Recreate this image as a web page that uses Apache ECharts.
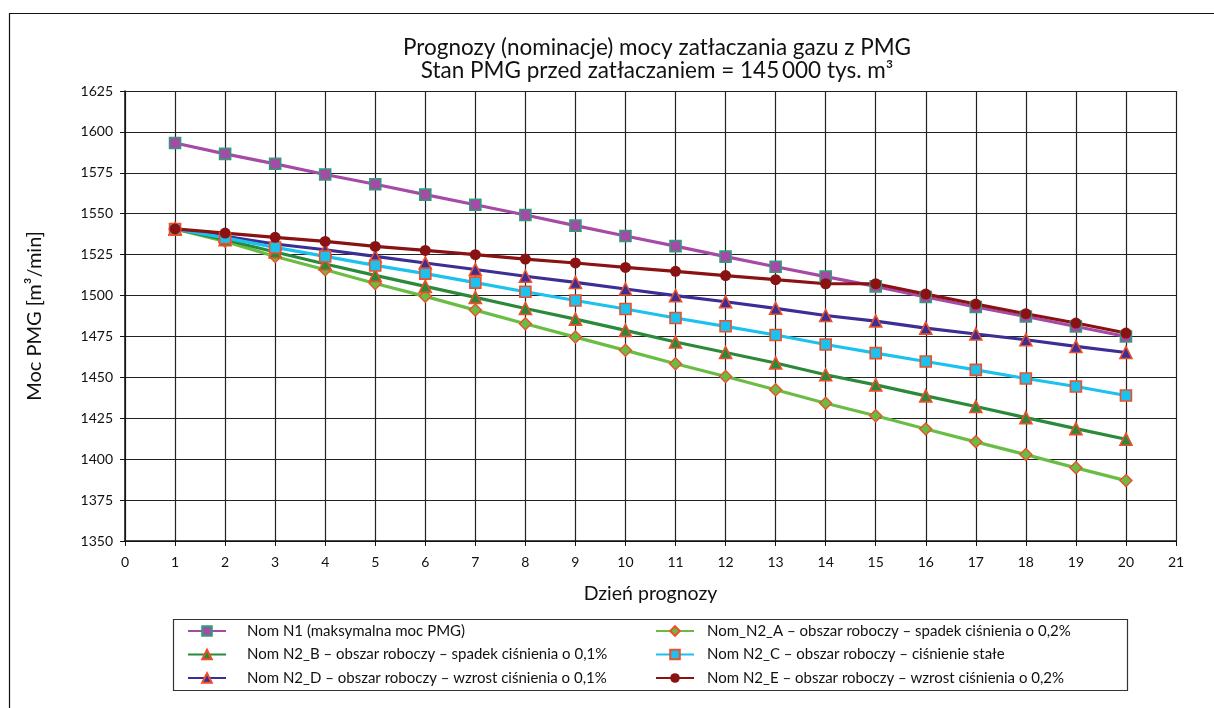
<!DOCTYPE html>
<html>
<head>
<meta charset="utf-8">
<script src="https://cdn.jsdelivr.net/npm/echarts@6/dist/echarts.min.js"></script>
<style>
html,body{margin:0;padding:0;background:#fff;}
#chart{width:1214px;height:708px;}
</style>
</head>
<body>
<div id="chart"></div>
<script>
var days = [1,2,3,4,5,6,7,8,9,10,11,12,13,14,15,16,17,18,19,20];
var nomN1 = [1593.2,1586.6,1580.5,1574.0,1568.0,1561.7,1555.5,1549.2,1542.7,1536.4,1530.2,1523.8,1517.6,1511.6,1505.6,1499.1,1493.0,1487.2,1481.1,1475.0];
var nomN2A = [1540.7,1533.1,1523.9,1515.8,1507.4,1499.5,1491.1,1482.8,1474.6,1466.5,1458.3,1450.5,1442.4,1434.2,1426.5,1418.4,1410.6,1402.8,1394.7,1386.9];
var nomN2B = [1540.7,1534.1,1526.6,1519.3,1512.3,1505.6,1498.9,1492.1,1485.6,1478.7,1471.6,1465.2,1458.8,1451.6,1445.4,1438.7,1432.2,1425.4,1418.7,1412.2];
var nomN2C = [1540.7,1535.2,1529.4,1523.9,1518.4,1513.4,1507.9,1502.3,1497.0,1491.8,1486.3,1481.2,1475.9,1470.1,1464.8,1459.7,1454.6,1449.3,1444.4,1438.9];
var nomN2D = [1540.7,1536.2,1531.5,1528.0,1523.9,1519.9,1515.9,1511.8,1508.0,1504.0,1499.9,1496.2,1492.2,1487.8,1484.4,1480.1,1476.5,1473.0,1468.9,1465.2];
var nomN2E = [1540.7,1538.2,1535.6,1533.1,1530.0,1527.6,1525.0,1522.3,1519.9,1517.2,1514.8,1512.2,1509.7,1507.2,1507.2,1500.9,1494.8,1488.9,1483.2,1477.1];

var seriesNames = [
  'Nom N1 (maksymalna moc PMG)',
  'Nom_N2_A \u2013 obszar roboczy \u2013 spadek ci\u015bnienia o 0,2%',
  'Nom N2_B \u2013 obszar roboczy \u2013 spadek ci\u015bnienia o 0,1%',
  'Nom N2_C \u2013 obszar roboczy \u2013 ci\u015bnienie sta\u0142e',
  'Nom N2_D \u2013 obszar roboczy \u2013 wzrost ci\u015bnienia o 0,1%',
  'Nom N2_E \u2013 obszar roboczy \u2013 wzrost ci\u015bnienia o 0,2%'
];
var yTicks = [1350,1375,1400,1425,1450,1475,1500,1525,1550,1575,1600,1625];
var xTicks = [0,1,2,3,4,5,6,7,8,9,10,11,12,13,14,15,16,17,18,19,20,21];

function pairs(vals){ return days.map(function(d,i){ return [d, vals[i]]; }); }

var FONT = 'Lato, "Open Sans", sans-serif';
var OR = '#ee4f2a';

function mk(name, vals, color, symbol, size, fill, border, bw){
  return {
    name: name, type: 'line', data: pairs(vals),
    symbol: symbol, symbolSize: size, showSymbol: true,
    lineStyle: {color: color, width: 3.2},
    itemStyle: {color: fill, borderColor: border, borderWidth: bw},
    emphasis: {disabled: true},
    animation: false
  };
}

var chart = echarts.init(document.getElementById('chart'), null, {renderer: 'canvas'});
var option = {
  backgroundColor: '#fff',
  animation: false,
  textStyle: {fontFamily: FONT},
  title: {
    text: 'Prognozy (nominacje) mocy zat\u0142aczania gazu z PMG\nStan PMG przed zat\u0142aczaniem = 145\u2009000 tys. m\u00b3',
    left: 652, top: 31, textAlign: 'center',
    textStyle: {fontFamily: FONT, fontSize: 22.5, fontWeight: 'normal', color: '#111', lineHeight: 23}
  },
  grid: {left: 125, right: 38, top: 91, bottom: 167, containLabel: false},
  xAxis: {
    type: 'value', min: 0, max: 21, interval: 1,
    name: 'Dzie\u0144 prognozy', nameLocation: 'middle', nameGap: 43,
    nameTextStyle: {fontFamily: FONT, fontSize: 19.5, color: '#111'},
    axisLine: {show: true, lineStyle: {color: '#111', width: 1.5}},
    axisTick: {show: true, inside: false, length: 5, lineStyle: {color: '#111'}},
    axisLabel: {fontFamily: FONT, fontSize: 14, color: '#111', margin: 14,
      formatter: function(v){ return xTicks.indexOf(v) >= 0 ? String(v) : ''; }},
    splitLine: {show: true, lineStyle: {color: '#222', width: 1.2}}
  },
  yAxis: {
    type: 'value', min: 1350, max: 1625, interval: 25,
    name: 'Moc PMG [m\u00b3/min]', nameLocation: 'middle', nameGap: 80, nameRotate: 90,
    nameTextStyle: {fontFamily: FONT, fontSize: 20, color: '#111'},
    axisLine: {show: true, lineStyle: {color: '#111', width: 1.5}},
    axisTick: {show: true, inside: false, length: 5, lineStyle: {color: '#111'}},
    axisLabel: {fontFamily: FONT, fontSize: 14, color: '#111', margin: 12,
      formatter: function(v){ return yTicks.indexOf(v) >= 0 ? String(v) : ''; }},
    splitLine: {show: true, lineStyle: {color: '#222', width: 1.2}}
  },
  legend: [
    {
      orient: 'vertical', left: 182, top: 617, itemGap: 5.5,
      itemWidth: 38, itemHeight: 12,
      textStyle: {fontFamily: FONT, fontSize: 15, color: '#111', padding: [0,0,0,16], lineHeight: 18},
      data: [seriesNames[0], seriesNames[2], seriesNames[4]]
    },
    {
      orient: 'vertical', left: 650, top: 617, itemGap: 5.5,
      itemWidth: 38, itemHeight: 12,
      textStyle: {fontFamily: FONT, fontSize: 15, color: '#111', padding: [0,0,0,8], lineHeight: 18},
      data: [seriesNames[1], seriesNames[3], seriesNames[5]]
    }
  ],
  graphic: [
    {type: 'rect', silent: true, z: -1,
      shape: {x: 9.5, y: 13.5, width: 1400, height: 1000},
      style: {fill: 'none', stroke: '#111', lineWidth: 1.2}},
    {type: 'rect', silent: true, z: -1,
      shape: {x: 173.5, y: 619.5, width: 954, height: 71},
      style: {fill: 'none', stroke: '#333', lineWidth: 1.2}}
  ],
  series: [
    mk(seriesNames[0], nomN1, '#a54aa6', 'rect', 11, '#a54aa6', '#2f9f7a', 1.6),
    mk(seriesNames[1], nomN2A, '#6abd44', 'diamond', 12, '#6abd44', OR, 1.4),
    mk(seriesNames[2], nomN2B, '#2a8a3a', 'triangle', 12, '#2a8a3a', OR, 1.6),
    mk(seriesNames[4], nomN2D, '#3b2e94', 'triangle', 12, '#3b2e94', OR, 1.6),
    mk(seriesNames[3], nomN2C, '#1cc2ee', 'rect', 11, '#1cc2ee', OR, 1.6),
    mk(seriesNames[5], nomN2E, '#8a1212', 'circle', 11, '#8a1212', '#8a1212', 0)
  ]
};
chart.setOption(option);
</script>
</body>
</html>
